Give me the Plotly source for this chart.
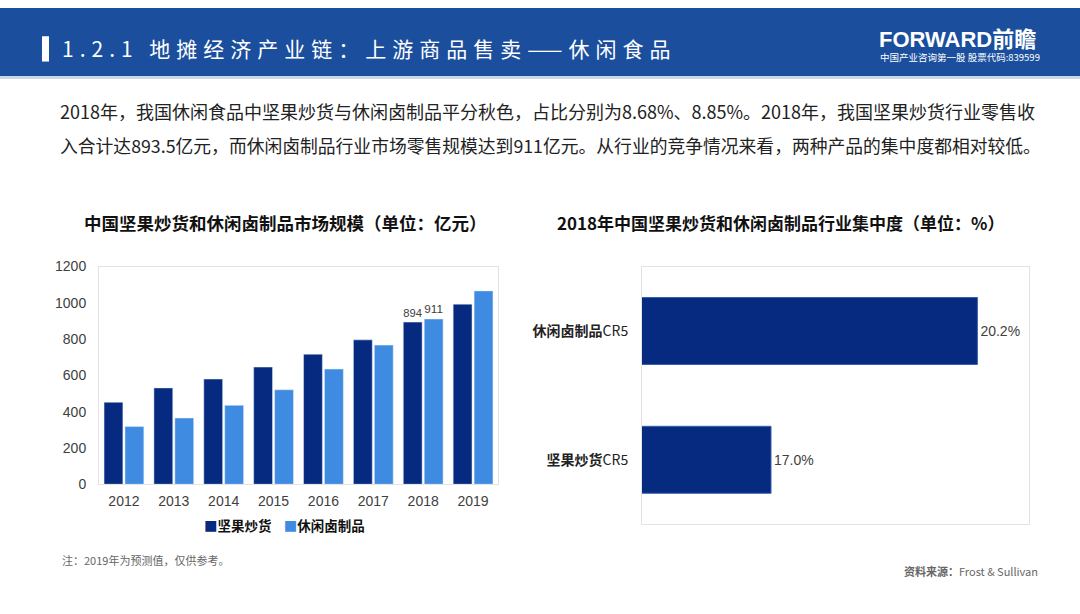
import plotly.graph_objects as go

# market size, 100M yuan
years = ["2012", "2013", "2014", "2015", "2016", "2017", "2018", "2019"]
nuts = [452, 531, 580, 646, 717, 796, 894, 993]
braised = [318, 365, 435, 521, 635, 767, 911, 1066]
label_years = ["2018"]

# 2018 concentration, CR5 (%)
cr_cats = ["坚果炒货CR5", "休闲卤制品CR5"]
cr_ticks = ["<b>坚果炒货</b>CR5", "<b>休闲卤制品</b>CR5"]
cr_vals = [17.0, 20.2]

DARK = "#052a80"
LIGHT = "#3f8be2"
CJK = "Noto Sans CJK SC"
LAT = "Liberation Sans, Noto Sans CJK SC"

W, H = 1080, 614


def px(x):
    return x / W


def py(y):
    return 1 - y / H


fig = go.Figure()

fig.add_trace(go.Bar(
    x=years, y=nuts, name="坚果炒货", marker_color=DARK,
    text=[str(v) if yr in label_years else "" for yr, v in zip(years, nuts)],
    textposition="outside", textfont=dict(size=14, color="#404040", family=LAT),
    cliponaxis=False, xaxis="x", yaxis="y",
))
fig.add_trace(go.Bar(
    x=years, y=braised, name="休闲卤制品", marker_color=LIGHT,
    text=[str(v) if yr in label_years else "" for yr, v in zip(years, braised)],
    textposition="outside", textfont=dict(size=14, color="#404040", family=LAT),
    cliponaxis=False, xaxis="x", yaxis="y",
))

fig.add_trace(go.Bar(
    x=cr_vals, y=cr_cats, orientation="h", marker_color=DARK,
    marker_line=dict(color="#3a5fb0", width=1), width=0.52,
    text=[f"{v:.1f}%" for v in cr_vals], textposition="outside",
    textfont=dict(size=14, color="#404040", family=LAT),
    cliponaxis=False, showlegend=False, xaxis="x2", yaxis="y2",
))

axis_line = dict(showline=True, linecolor="#e3e3e3", linewidth=1, mirror=True)

fig.update_layout(
    width=W, height=H,
    margin=dict(l=0, r=0, t=0, b=0),
    paper_bgcolor="white", plot_bgcolor="white",
    barmode="group", bargap=0.16, bargroupgap=0.1,
    showlegend=False,
    font=dict(family=CJK, color="#333333"),
    xaxis=dict(domain=[px(99), px(498)], anchor="y", showgrid=False,
               tickfont=dict(size=14, color="#404040", family=LAT),
               ticks="", ticklabelstandoff=4, **axis_line),
    yaxis=dict(domain=[py(489), py(265.5)], anchor="x", range=[0, 1200],
               dtick=200, showgrid=False, zeroline=False,
               tickfont=dict(size=14, color="#404040", family=LAT),
               ticks="", ticklabelstandoff=9, **axis_line),
    xaxis2=dict(domain=[px(642), px(1029)], anchor="y2", range=[15, 21],
                showgrid=False, showticklabels=False, zeroline=False,
                ticks="", **axis_line),
    yaxis2=dict(domain=[py(530), py(265.5)], anchor="x2",
                tickvals=cr_cats, ticktext=cr_ticks,
                tickfont=dict(size=14, color="#222222", family=CJK),
                showgrid=False, ticks="", ticklabelstandoff=10, **axis_line),
)

shapes = [
    dict(type="rect", xref="paper", yref="paper", x0=0, x1=1, y0=py(70), y1=1,
         fillcolor="#1b4f9e", line_width=0, layer="below"),
    dict(type="rect", xref="paper", yref="paper", x0=0, x1=1, y0=py(73), y1=py(70),
         fillcolor="#c9d6ea", line_width=0, layer="below"),
    dict(type="rect", xref="paper", yref="paper", x0=px(42), x1=px(49),
         y0=py(55), y1=py(29), fillcolor="white", line_width=0),
]
fig.update_layout(shapes=shapes)

legend_txt = (f'<span style="color:{DARK}">■</span>坚果炒货'
              f'    <span style="color:{LIGHT}">■</span>休闲卤制品')

annotations = [
    dict(text="1.2.1 地摊经济产业链：上游商品售卖——休闲食品", x=px(60), y=py(41),
         align="left", font=dict(size=21, color="white", family=CJK)),
    dict(text="<b>FORWARD前瞻</b>", x=px(877), y=py(32.5),
         font=dict(size=22, color="white", family=LAT)),
    dict(text="中国产业咨询第一股 股票代码:839599", x=px(878), y=py(50),
         font=dict(size=9.5, color="white", family=CJK)),
    dict(text="2018年，我国休闲食品中坚果炒货与休闲卤制品平分秋色，占比分别为8.68%、8.85%。2018年，我国坚果炒货行业零售收",
         x=px(58), y=py(106), font=dict(size=18, color="#222222", family=CJK)),
    dict(text="入合计达893.5亿元，而休闲卤制品行业市场零售规模达到911亿元。从行业的竞争情况来看，两种产品的集中度都相对较低。",
         x=px(58), y=py(141), font=dict(size=17.8, color="#222222", family=CJK)),
    dict(text="<b>中国坚果炒货和休闲卤制品市场规模（单位：亿元）</b>", x=px(285.5), y=py(220),
         xanchor="center", font=dict(size=17.5, color="#111111", family=CJK)),
    dict(text="<b>2018年中国坚果炒货和休闲卤制品行业集中度（单位：%）</b>", x=px(781), y=py(220),
         xanchor="center", font=dict(size=17, color="#111111", family=CJK)),
    dict(text=f"<b>{legend_txt}</b>", x=px(284), y=py(531), xanchor="center",
         font=dict(size=13.5, color="#111111", family=CJK)),
    dict(text="注：2019年为预测值，仅供参考。", x=px(60), y=py(567),
         font=dict(size=11, color="#666666", family=CJK)),
    dict(text="<b>资料来源：</b>Frost & Sullivan", x=px(1040), y=py(578), xanchor="right",
         font=dict(size=11, color="#666666", family=CJK)),
]
for a in annotations:
    a.setdefault("xanchor", "left")
    a.update(xref="paper", yref="paper", yanchor="middle", showarrow=False)
fig.update_layout(annotations=annotations)

# page flush with the window, no scrollbars; the slide title is letter-spaced
js = """
for (const el of [document.documentElement, document.body]) {
  el.style.margin = '0px'; el.style.padding = '0px'; el.style.overflow = 'hidden';
}
document.querySelectorAll('.annotation-text').forEach(function (t) {
  if (t.textContent.indexOf('1.2.1') === 0) { t.style.letterSpacing = '6px'; }
});
"""
fig.write_html("out.html", post_script=js, config={"displayModeBar": False})
